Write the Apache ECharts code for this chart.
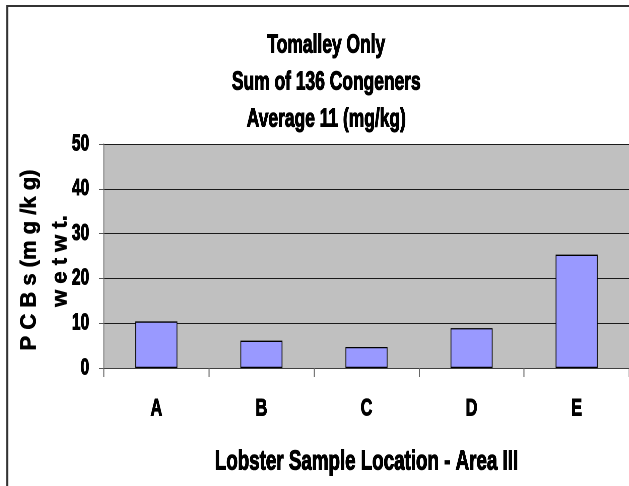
<!DOCTYPE html>
<html>
<head>
<meta charset="utf-8">
<script src="https://cdn.jsdelivr.net/npm/echarts@6/dist/echarts.min.js"></script>
<style>
html,body{margin:0;padding:0;background:#fff;overflow:hidden;width:629px;height:486px;}
/* The reference uses a very condensed face for its horizontal text; the whole
   drawing is laid out in a wider space and compressed horizontally to match. */
#chart{width:939px;height:486px;transform:scaleX(0.67);transform-origin:0 0;}
</style>
</head>
<body>
<div id="chart"></div>
<script>
const categories = ['A', 'B', 'C', 'D', 'E'];
const pcbValues = [10.4, 6.1, 4.7, 8.9, 25.3];
const yTicks = { min: 0, max: 50, interval: 10 };
const titleLines = ['Tomalley Only', 'Sum of 136 Congeners', 'Average 11 (mg/kg)'];
const xAxisName = 'Lobster Sample Location - Area III';
const yAxisNameLines = ['P C B s (m g /k g)', 'w e t w t.'];

const SQUEEZE = 0.67;
const FONT = '"Liberation Sans", Arial, Helvetica, sans-serif';
const bold = (size, border) => ({
  fontFamily: FONT, fontSize: size, fontWeight: 'bold', color: '#000',
  textBorderColor: '#000', textBorderWidth: border
});

const chart = echarts.init(document.getElementById('chart'), null, { devicePixelRatio: 2 });
chart.setOption({
  backgroundColor: '#ffffff',
  animation: false,
  title: {
    text: titleLines.join('\n'),
    left: 487,
    top: 27,
    padding: 0,
    textAlign: 'center',
    textStyle: Object.assign(bold(26, 1.1), { lineHeight: 37 })
  },
  graphic: [
    { type: 'line', shape: { x1: 10, y1: 6, x2: 960, y2: 6 }, style: { stroke: '#333', lineWidth: 2 }, silent: true },
    { type: 'line', shape: { x1: 11, y1: 5, x2: 11, y2: 500 }, style: { stroke: '#333', lineWidth: 3 }, silent: true },
    // rotated y-axis title (not condensed in the reference, so it is stretched back)
    {
      type: 'text', x: 44, y: 260, rotation: Math.PI / 2, scaleY: 1 / SQUEEZE, silent: true,
      style: { text: yAxisNameLines[0], font: 'bold 22px ' + FONT, fill: '#000', stroke: '#000', lineWidth: 0.6,
               align: 'center', verticalAlign: 'middle' }
    },
    {
      type: 'text', x: 90, y: 261, rotation: Math.PI / 2, scaleY: 1 / SQUEEZE, silent: true,
      style: { text: yAxisNameLines[1], font: 'bold 22px ' + FONT, fill: '#000', stroke: '#000', lineWidth: 0.6,
               align: 'center', verticalAlign: 'middle' }
    }
  ],
  grid: {
    left: 155, right: 0, top: 144, bottom: 118,
    show: true, backgroundColor: '#c0c0c0', borderWidth: 0,
    outerBoundsMode: 'none',
    containLabel: false
  },
  xAxis: {
    type: 'category',
    data: categories,
    boundaryGap: true,
    name: xAxisName,
    nameLocation: 'middle',
    nameGap: 80,
    nameMoveOverlap: false,
    nameTextStyle: bold(28, 1.1),
    axisLine: { show: true, lineStyle: { color: '#404040', width: 1 } },
    axisTick: { show: true, length: 9, alignWithLabel: false, interval: 0, lineStyle: { color: '#666', width: 1.5 } },
    axisLabel: Object.assign({ margin: 29, interval: 0 }, bold(24, 1.1)),
    splitLine: { show: false }
  },
  yAxis: {
    type: 'value',
    min: yTicks.min, max: yTicks.max, interval: yTicks.interval,
    axisLine: { show: true, lineStyle: { color: '#808080', width: 1.5 } },
    axisTick: { show: true, length: 7.5, inside: false, lineStyle: { color: '#555' } },
    axisLabel: Object.assign({ margin: 22 }, bold(23, 1.1)),
    splitLine: { show: true, lineStyle: { color: '#1a1a1a', width: 1 } }
  },
  series: [{
    type: 'bar',
    data: pcbValues,
    barWidth: '40%',
    itemStyle: { color: '#9999ff', borderColor: '#000', borderWidth: 1.3 },
    silent: true
  }]
});
</script>
</body>
</html>
